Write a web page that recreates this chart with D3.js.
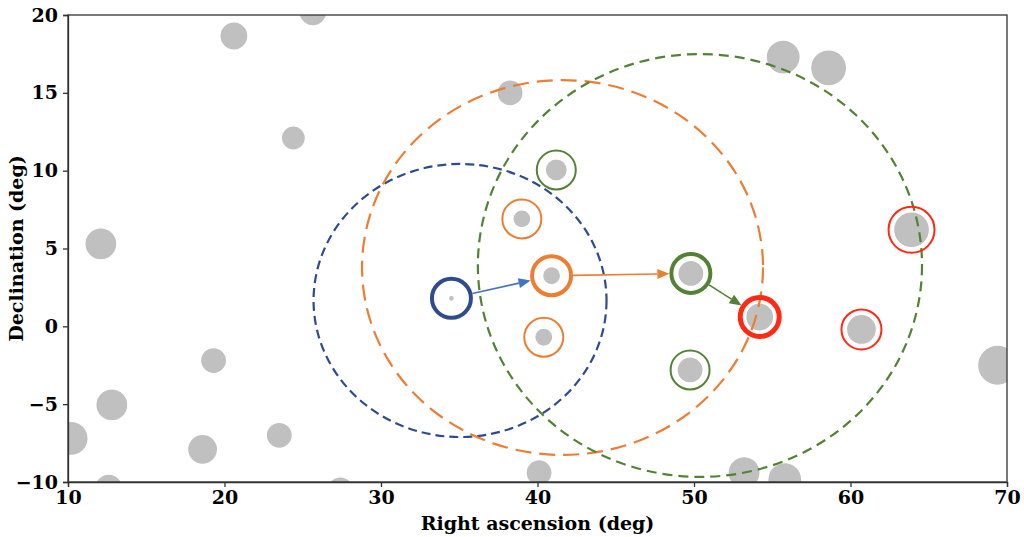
<!DOCTYPE html>
<html>
<head>
<meta charset="utf-8">
<script src="https://cdn.jsdelivr.net/npm/d3@7.9.0/dist/d3.min.js"></script>
<style>
  body { margin: 0; background: #fff; }
  svg { display: block; }
  .axis text { font-family: "DejaVu Serif", serif; font-weight: bold; font-size: 19px; fill: #000; }
  .axis path, .axis line { stroke: #333; stroke-width: 1.3; }
  .label { font-family: "DejaVu Serif", serif; font-weight: bold; font-size: 19px; }
</style>
</head>
<body>
<svg id="chart" width="1024" height="537"></svg>
<script>
// background stars in the field
const fieldRA   = [20.6, 25.65, 24.4, 12.1, 19.3, 12.8, 10.2, 18.6, 23.5, 12.6, 27.4, 38.25, 40.1,
                   41.2, 39.0, 40.9, 40.4, 34.5, 49.8, 49.75, 54.2, 60.7, 63.9, 55.7, 58.6, 69.4, 53.2, 55.8];
const fieldDec  = [18.65, 20.2, 12.1, 5.3, -2.2, -5.05, -7.2, -7.9, -7.0, -10.4, -10.5, 15.0, -9.4,
                   10.05, 6.9, 3.25, -0.7, 1.8, 3.4, -2.8, 0.6, -0.2, 6.2, 17.3, 16.6, -2.5, -9.4, -9.85];
const fieldSize = [14, 14, 12, 16, 13, 16, 17, 15, 13, 14, 13, 13, 13,
                   11, 9, 9, 9, 3, 13, 13, 14, 15, 18, 17, 18, 20, 16, 17];

// candidates per step (stage 0 = start, 3 = end); picked = chosen one
const ringStar   = [17, 15, 14, 16, 18, 13, 19, 20, 21, 22];
const ringStage  = [0, 1, 1, 1, 2, 2, 2, 3, 3, 3];
const ringPicked = [true, true, false, false, true, false, false, true, false, false];

// search radius around each picked star
const searchRA     = [35.05, 41.6, 50.38];
const searchDec    = [1.66, 3.78, 3.91];
const searchRadRA  = [9.36, 12.81, 14.19];
const searchRadDec = [8.77, 12.04, 13.58];

// hops between picked stars
const hopFrom = [17, 15, 18];
const hopTo   = [15, 18, 20];
const hopStage = [0, 1, 2];

const xTicks = [10, 20, 30, 40, 50, 60, 70];
const yTicks = [-10, -5, 0, 5, 10, 15, 20];

const ringColors  = ['#2f4b8f', '#ed7d31', '#548235', '#ff2a14'];
const arrowColors = ['#4472c4', '#ed7d31', '#548235'];
const dashes      = ['9,5', '16,8', '10,6'];

const margin = { top: 15, right: 17, bottom: 55, left: 68 };
const width = 1024 - margin.left - margin.right;
const height = 537 - margin.top - margin.bottom;

const svg = d3.select('#chart');
const g = svg.append('g').attr('transform', `translate(${margin.left},${margin.top})`);

const x = d3.scaleLinear().domain([10, 70]).range([0, width]);
const y = d3.scaleLinear().domain([-10, 20]).range([height, 0]);
const r = d3.scaleLinear().domain([0, 20]).range([0, 20]);

svg.append('defs').append('clipPath').attr('id', 'clip')
  .append('rect').attr('width', width).attr('height', height);

const plot = g.append('g').attr('clip-path', 'url(#clip)');

// gray stars
plot.selectAll('circle.star')
  .data(fieldRA.map((ra, i) => ({ ra, dec: fieldDec[i], s: fieldSize[i] })))
  .join('circle')
  .attr('class', 'star')
  .attr('cx', d => x(d.ra))
  .attr('cy', d => y(d.dec))
  .attr('r', d => r(d.s))
  .attr('fill', '#c0c0c0')
  .attr('stroke', '#fff')
  .attr('stroke-width', 1.2);

// dashed search circles
searchRA.forEach((ra, i) => {
  plot.append('ellipse')
    .attr('cx', x(ra))
    .attr('cy', y(searchDec[i]))
    .attr('rx', x(ra + searchRadRA[i]) - x(ra))
    .attr('ry', y(searchDec[i]) - y(searchDec[i] + searchRadDec[i]))
    .attr('fill', 'none')
    .attr('stroke', ringColors[i])
    .attr('stroke-width', 2.2)
    .attr('stroke-dasharray', dashes[i]);
});

function ringRadius(star) {
  return Math.max(r(fieldSize[star]) + 5, 19.5);
}

// candidate rings
ringStar.forEach((s, i) => {
  plot.append('circle')
    .attr('cx', x(fieldRA[s]))
    .attr('cy', y(fieldDec[s]))
    .attr('r', ringRadius(s))
    .attr('fill', 'none')
    .attr('stroke', ringColors[ringStage[i]])
    .attr('stroke-width', ringPicked[i] ? (ringStage[i] === 3 ? 5 : 4) : 2);
});

// arrows
hopFrom.forEach((a, i) => {
  const b = hopTo[i];
  const x0 = x(fieldRA[a]), y0 = y(fieldDec[a]);
  const x1 = x(fieldRA[b]), y1 = y(fieldDec[b]);
  const dx = x1 - x0, dy = y1 - y0;
  const len = Math.hypot(dx, dy);
  const ux = dx / len, uy = dy / len;
  const sx = x0 + ux * (ringRadius(a) + 2), sy = y0 + uy * (ringRadius(a) + 2);
  const ex = x1 - ux * (ringRadius(b) + 2), ey = y1 - uy * (ringRadius(b) + 2);
  const hl = 12, hw = 5;
  const bx = ex - ux * hl, by = ey - uy * hl;
  plot.append('line')
    .attr('x1', sx).attr('y1', sy).attr('x2', bx).attr('y2', by)
    .attr('stroke', arrowColors[hopStage[i]])
    .attr('stroke-width', 1.6);
  plot.append('path')
    .attr('d', `M${ex},${ey}L${bx - uy * hw},${by + ux * hw}L${bx + uy * hw},${by - ux * hw}Z`)
    .attr('fill', arrowColors[hopStage[i]]);
});

// axes
g.append('g').attr('class', 'axis')
  .attr('transform', `translate(0,${height})`)
  .call(d3.axisBottom(x).tickValues(xTicks).tickSize(5).tickPadding(4).tickFormat(d3.format('d')));
g.append('g').attr('class', 'axis')
  .call(d3.axisLeft(y).tickValues(yTicks).tickSize(5).tickPadding(5).tickFormat(d => d < 0 ? '\u2212' + Math.abs(d) : d));

g.append('rect')
  .attr('width', width).attr('height', height)
  .attr('fill', 'none').attr('stroke', '#333').attr('stroke-width', 1.3);

svg.append('text').attr('class', 'label')
  .attr('x', margin.left + width / 2).attr('y', 530)
  .attr('text-anchor', 'middle')
  .text('Right ascension (deg)');

svg.append('text').attr('class', 'label')
  .attr('transform', `translate(23,${margin.top + height / 2}) rotate(-90)`)
  .attr('text-anchor', 'middle')
  .text('Declination (deg)');
</script>
</body>
</html>
